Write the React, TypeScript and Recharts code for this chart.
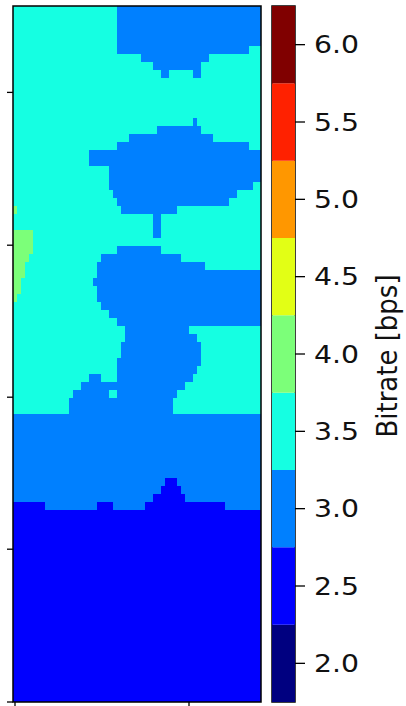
import React from 'react';
import { ComposedChart, BarChart, Bar, Scatter, XAxis, YAxis, ReferenceArea } from 'recharts';

// jet colormap cut into 9 bins
const levelBounds = [1.75, 2.25, 2.75, 3.25, 3.75, 4.25, 4.75, 5.25, 5.75, 6.25];
const levelColors = ['#000080', '#0000ff', '#0080ff', '#15ffe2', '#7cff79', '#e2ff15', '#ff9700', '#ff2100', '#800000'];
const cbTicks = [2.0, 2.5, 3.0, 3.5, 4.0, 4.5, 5.0, 5.5, 6.0];

const GRID_COLS = 62;
const GRID_ROWS = 87;
const xTicks = [0.5, 44];
const yTicks = [0, 19.1, 38.1, 57.1, 76.2];

// map, top to bottom: "level:count" runs left to right, and how many rows the line repeats
const rowRuns: [string, number][] = [
  ['3:26 2:36', 5],
  ['3:26 2:33 3:3', 1],
  ['3:32 2:17 3:13', 1],
  ['3:35 2:12 3:15', 1],
  ['3:37 2:2 3:6 2:2 3:15', 1],
  ['3:62', 5],
  ['3:45 2:1 3:16', 1],
  ['3:36 2:11 3:15', 1],
  ['3:29 2:21 3:12', 1],
  ['3:26 2:33 3:3', 1],
  ['3:19 2:43', 2],
  ['3:24 2:38', 2],
  ['3:24 2:36 3:2', 1],
  ['3:25 2:31 3:6', 1],
  ['3:26 2:28 3:8', 1],
  ['4:1 3:26 2:14 3:21', 1],
  ['3:35 2:2 3:25', 2],
  ['4:5 3:30 2:2 3:25', 1],
  ['4:5 3:57', 1],
  ['4:5 3:21 2:11 3:25', 1],
  ['4:4 3:18 2:20 3:20', 1],
  ['4:3 3:18 2:27 3:14', 1],
  ['4:3 3:18 2:41', 1],
  ['4:2 3:18 2:42', 1],
  ['4:2 3:19 2:41', 1],
  ['4:1 3:20 2:41', 1],
  ['3:22 2:40', 1],
  ['3:24 2:38', 1],
  ['3:26 2:36', 1],
  ['3:28 2:16 3:18', 1],
  ['3:28 2:18 3:16', 1],
  ['3:27 2:20 3:15', 2],
  ['3:26 2:21 3:15', 1],
  ['3:26 2:20 3:16', 1],
  ['3:19 2:3 3:4 2:19 3:17', 1],
  ['3:17 2:26 3:19', 1],
  ['3:15 2:9 3:2 2:15 3:21', 1],
  ['3:14 2:26 3:22', 2],
  ['2:62', 8],
  ['2:38 1:3 2:21', 1],
  ['2:37 1:5 2:20', 1],
  ['2:35 1:8 2:19', 1],
  ['1:8 2:13 1:4 2:8 1:20 2:9', 1],
  ['1:62', 24],
];

type Cell = { x1: number; x2: number; y1: number; y2: number; level: number; x: number; y: number };

const cells: Cell[] = [];
let rowPos = 0;
for (const [spec, rep] of rowRuns) {
  let col = 0;
  for (const part of spec.split(' ')) {
    const [lv, n] = part.split(':').map(Number);
    const y1 = GRID_ROWS - rowPos - rep;
    const y2 = GRID_ROWS - rowPos;
    cells.push({ x1: col, x2: col + n, y1, y2, level: lv, x: col + n / 2, y: (y1 + y2) / 2 });
    col += n;
  }
  rowPos += rep;
}

const cbRow: Record<string, number | string> = { name: 'cb', base: levelBounds[0] };
levelColors.forEach((_, i) => {
  cbRow[`s${i}`] = levelBounds[i + 1] - levelBounds[i];
});
const cbData = [cbRow];

const FONT = 'DejaVu Sans';
const tickLine = { stroke: '#000', strokeWidth: 1.3 };

// labels of the main axes fall outside the cropped figure
const NoTick = () => <g />;

const CbTick = ({ x, y, payload }: any) => (
  <text
    transform={`translate(${x},${y}) scale(1.18,1)`}
    dy="0.355em"
    textAnchor="start"
    fontSize={24}
    fontFamily={FONT}
    fill="#111"
  >
    {Number(payload.value).toFixed(1)}
  </text>
);

const CbLabel = ({ viewBox }: any) => {
  const bx = viewBox.x + viewBox.width - 9;
  const by = viewBox.y + viewBox.height / 2 + 2;
  return (
    <text
      transform={`translate(${bx},${by}) rotate(-90) scale(1,1.12)`}
      textAnchor="middle"
      fontSize={26}
      fontFamily={FONT}
      fill="#111"
    >
      Bitrate [bps]
    </text>
  );
};

export default function App() {
  return (
    <div style={{ position: 'absolute', left: 0, top: 0, width: 406, height: 706, background: '#fff' }}>
      <div style={{ position: 'absolute', left: 0, top: 0 }}>
        <ComposedChart width={270} height={706} margin={{ top: 6, right: 9, bottom: 0, left: 0 }}>
          <XAxis
            type="number"
            dataKey="x"
            domain={[0, GRID_COLS]}
            ticks={xTicks}
            interval={0}
            allowDataOverflow
            tick={<NoTick />}
            tickSize={5}
            height={4}
            axisLine={false}
            tickLine={tickLine}
          />
          <YAxis
            type="number"
            dataKey="y"
            domain={[0, GRID_ROWS]}
            ticks={yTicks}
            interval={0}
            allowDataOverflow
            tick={<NoTick />}
            tickSize={6}
            width={13}
            axisLine={false}
            tickLine={tickLine}
          />
          {cells.map((c, i) => (
            <ReferenceArea
              key={i}
              x1={c.x1}
              x2={c.x2}
              y1={c.y1}
              y2={c.y2}
              fill={levelColors[c.level]}
              fillOpacity={1}
              stroke="none"
              shapeRendering="crispEdges"
            />
          ))}
          <Scatter data={cells} dataKey="y" fill="none" isAnimationActive={false} shape={() => <g />} />
          <ReferenceArea x1={0} x2={GRID_COLS} y1={0} y2={GRID_ROWS} fill="none" stroke="#000" strokeWidth={1.5} />
        </ComposedChart>
      </div>
      <div style={{ position: 'absolute', left: 262, top: 0 }}>
        <BarChart
          width={144}
          height={706}
          data={cbData}
          margin={{ top: 6, right: 0, bottom: 4, left: 10 }}
          barCategoryGap={0}
        >
          <XAxis dataKey="name" hide />
          <YAxis
            orientation="right"
            type="number"
            domain={[levelBounds[0], levelBounds[levelBounds.length - 1]]}
            ticks={cbTicks}
            interval={0}
            allowDataOverflow
            width={111}
            tickSize={10}
            tickMargin={9}
            axisLine={false}
            tickLine={tickLine}
            tick={<CbTick />}
            label={<CbLabel />}
          />
          <Bar dataKey="base" stackId="cb" fill="none" isAnimationActive={false} />
          {levelColors.map((col, i) => (
            <Bar key={i} dataKey={`s${i}`} stackId="cb" fill={col} isAnimationActive={false} />
          ))}
          <ReferenceArea
            y1={levelBounds[0]}
            y2={levelBounds[levelBounds.length - 1]}
            fill="none"
            stroke="#000"
            strokeWidth={1.5}
          />
        </BarChart>
      </div>
    </div>
  );
}
